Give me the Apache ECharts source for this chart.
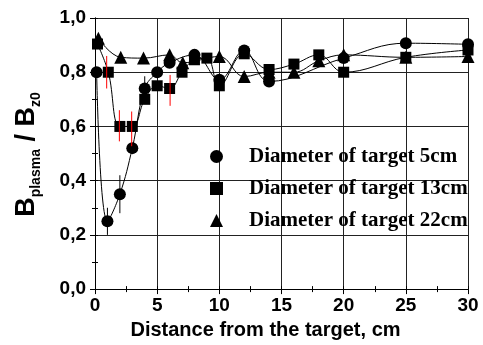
<!DOCTYPE html>
<html>
<head>
<meta charset="utf-8">
<script src="https://cdn.jsdelivr.net/npm/echarts@6/dist/echarts.min.js"></script>
<style>
  html, body { margin: 0; padding: 0; background: #fff; }
  #chart { width: 483px; height: 345px; }
</style>
</head>
<body>
<div id="chart"></div>
<script>
// measured values, [distance cm, Bplasma/Bz0]
var target5 = [[0.13, 0.80], [1, 0.25], [2, 0.35], [3, 0.52], [4, 0.74], [5, 0.80], [6, 0.835],
  [8, 0.864], [10, 0.772], [12, 0.88], [14, 0.766], [20, 0.852], [25, 0.907], [30, 0.903]];
var target13 = [[0.2, 0.904], [1.07, 0.80], [2, 0.60], [3, 0.60], [4, 0.70], [5, 0.75], [6, 0.74],
  [7, 0.80], [8, 0.846], [9, 0.852], [10, 0.75], [12, 0.868], [14, 0.81], [16, 0.83],
  [18, 0.864], [20, 0.80], [25, 0.855], [30, 0.882]];
var target22 = [[0.27, 0.925], [2.07, 0.855], [3.9, 0.852], [6, 0.864], [7.06, 0.835], [10, 0.858],
  [12, 0.784], [14, 0.80], [16, 0.80], [18, 0.842], [20, 0.864], [25, 0.855], [30, 0.858]];
// error bars [x, low, high]
var errBlack = [[1, 0.20, 0.30], [2, 0.28, 0.42], [4, 0.70, 0.785]];
var errRed = [[0.94, 0.74, 0.86], [1.96, 0.545, 0.66], [2.95, 0.527, 0.655], [6.04, 0.676, 0.79]];
var seriesNames = ['Diameter of target 5cm', 'Diameter of target 13cm', 'Diameter of target 22cm'];

function errorBars(color) {
  return function (params, api) {
    var p1 = api.coord([api.value(0), api.value(1)]);
    var p2 = api.coord([api.value(0), api.value(2)]);
    return {
      type: 'line',
      shape: { x1: p1[0], y1: p1[1], x2: p2[0], y2: p2[1] },
      style: { stroke: color, lineWidth: 1 }
    };
  };
}

var chart = echarts.init(document.getElementById('chart'));
var lineStyle = { color: '#000', width: 1 };
chart.setOption({
  animation: false,
  grid: { left: 95, right: 15, top: 18, bottom: 55, show: false },
  legend: {
    left: 205,
    top: 141,
    orient: 'vertical',
    itemWidth: 13,
    itemHeight: 13,
    itemGap: 11,
    selectedMode: false,
    textStyle: {
      fontFamily: 'Liberation Serif', fontWeight: 'bold', fontSize: 21,
      color: '#000', lineHeight: 21, padding: [0, 0, 0, 21]
    },
    data: [
      { name: seriesNames[0], icon: 'circle' },
      { name: seriesNames[1], icon: 'rect' },
      { name: seriesNames[2], icon: 'triangle' }
    ]
  },
  xAxis: [{
    type: 'value', min: 0, max: 30, interval: 5,
    name: 'Distance from the target, cm',
    nameLocation: 'middle', nameGap: 27,
    nameTextStyle: {
      fontFamily: 'Liberation Sans', fontWeight: 'bold', fontSize: 20, color: '#000',
      padding: [0, 32, 0, 0]
    },
    axisLine: { lineStyle: { color: '#000' } },
    axisTick: { show: true, length: 5, lineStyle: { color: '#000' } },
    minorTick: { show: true, splitNumber: 2, length: 3, lineStyle: { color: '#000' } },
    splitLine: { show: true, lineStyle: { color: '#222', width: 1 } },
    axisLabel: {
      margin: 7, fontFamily: 'Liberation Sans', fontWeight: 'bold', fontSize: 19, color: '#000'
    }
  }, {
    type: 'value', min: 0, max: 30, interval: 5, position: 'top',
    axisLine: { show: true, lineStyle: { color: '#000' } },
    axisTick: { show: true, length: 3, lineStyle: { color: '#000' } },
    minorTick: { show: true, splitNumber: 2, length: 3, lineStyle: { color: '#000' } },
    splitLine: { show: false },
    axisLabel: { show: false }
  }],
  yAxis: [{
    type: 'value', min: 0, max: 1, interval: 0.2,
    name: '{b|B}{s|plasma}{b| / B}{s|z0}',
    nameLocation: 'middle', nameGap: 52, nameRotate: 90,
    nameTextStyle: {
      color: '#000', padding: [0, 2, 0, 0],
      rich: {
        b: { fontFamily: 'Liberation Sans', fontWeight: 'bold', fontSize: 27, lineHeight: 32, color: '#000' },
        s: {
          fontFamily: 'Liberation Sans', fontWeight: 'bold', fontSize: 14, lineHeight: 14,
          color: '#000', verticalAlign: 'bottom', padding: [12, 0, 0, 0]
        }
      }
    },
    axisLine: { show: true, lineStyle: { color: '#000' } },
    axisTick: { show: true, length: 5, lineStyle: { color: '#000' } },
    minorTick: { show: true, splitNumber: 2, length: 3, lineStyle: { color: '#000' } },
    splitLine: { show: true, lineStyle: { color: '#222', width: 1 } },
    axisLabel: {
      margin: 9, fontFamily: 'Liberation Sans', fontWeight: 'bold', fontSize: 19, color: '#000',
      formatter: function (v) { return v.toFixed(1).replace('.', ','); }
    }
  }, {
    type: 'value', min: 0, max: 1, interval: 0.2, position: 'right',
    axisLine: { show: true, lineStyle: { color: '#000' } },
    axisTick: { show: true, length: 3, lineStyle: { color: '#000' } },
    minorTick: { show: true, splitNumber: 2, length: 3, lineStyle: { color: '#000' } },
    splitLine: { show: false },
    axisLabel: { show: false }
  }],
  series: [{
    name: seriesNames[0], type: 'line', data: target5, smooth: 0.4,
    symbol: 'circle', symbolSize: 12, itemStyle: { color: '#000' }, lineStyle: lineStyle, z: 3
  }, {
    name: seriesNames[1], type: 'line', data: target13, smooth: 0.4,
    symbol: 'rect', symbolSize: 11, itemStyle: { color: '#000' }, lineStyle: lineStyle, z: 3
  }, {
    name: seriesNames[2], type: 'line', data: target22, smooth: 0.4,
    symbol: 'triangle', symbolSize: 13, itemStyle: { color: '#000' }, lineStyle: lineStyle, z: 3
  }, {
    name: 'errBlack', type: 'custom', data: errBlack, renderItem: errorBars('#000'), z: 2
  }, {
    name: 'errRed', type: 'custom', data: errRed, renderItem: errorBars('#ff0000'), z: 4
  }]
});
</script>
</body>
</html>
